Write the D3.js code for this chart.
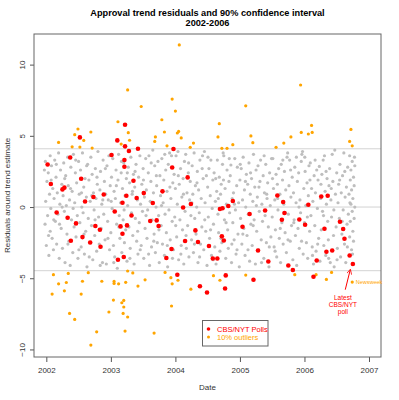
<!DOCTYPE html>
<html>
<head>
<meta charset="utf-8">
<script src="https://cdn.jsdelivr.net/npm/d3@7"></script>
<style>
  body { margin: 0; background: #fff; }
  text { font-family: "Liberation Sans", Arial, sans-serif; }
</style>
</head>
<body>
<svg id="chart" width="399" height="400"></svg>
<script>
// tick labels
var xTicks = [2002, 2003, 2004, 2005, 2006, 2007];
var yTicks = [-10, -5, 0, 5, 10];
// 90% band and zero line
var bandLines = [4.09, 0, -4.47];

// CBS/NYT polls [date, residual]
var cbsPolls = [
  [2002.02,2.99],[2002.07,1.62],[2002.16,-0.38],[2002.25,1.24],[2002.28,1.36],[2002.33,-0.75],
  [2002.37,3.48],[2002.38,-2.37],[2002.46,-1.15],[2002.52,4.89],[2002.54,1.99],[2002.56,-2.11],
  [2002.60,0.39],[2002.68,-2.49],[2002.73,0.70],[2002.76,-1.33],[2002.83,-1.59],[2002.84,-2.79],
  [2002.89,0.88],[2003.01,3.65],[2003.06,-0.31],[2003.10,4.68],[2003.11,-3.70],[2003.15,-1.36],
  [2003.18,0.30],[2003.18,-1.88],[2003.20,-3.51],[2003.21,3.30],[2003.21,2.83],[2003.22,5.78],
  [2003.22,4.26],[2003.24,0.79],[2003.25,-1.29],[2003.28,3.93],[2003.32,-0.59],[2003.35,1.85],
  [2003.40,0.63],[2003.42,4.09],[2003.51,0.98],[2003.61,-0.98],[2003.65,0.28],[2003.71,-0.94],
  [2003.74,-1.33],[2003.80,1.10],[2003.86,-3.58],[2003.94,-2.95],[2003.95,2.78],[2003.97,4.07],
  [2004.03,-4.75],[2004.12,-0.03],[2004.15,-2.39],[2004.19,2.08],[2004.24,0.21],[2004.31,-1.64],
  [2004.35,-2.46],[2004.38,-5.56],[2004.49,-6.00],[2004.52,-2.74],[2004.58,-3.61],[2004.65,-3.61],
  [2004.69,-0.14],[2004.72,-2.06],[2004.73,-0.08],[2004.75,-2.35],[2004.77,-5.72],[2004.78,-4.80],
  [2004.82,0.07],[2004.89,0.42],[2005.04,-1.38],[2005.15,-0.49],[2005.21,-5.11],[2005.28,-3.05],
  [2005.39,-0.24],[2005.44,-3.82],[2005.58,0.81],[2005.65,-0.89],[2005.67,0.35],[2005.69,-0.42],
  [2005.75,-4.10],[2005.82,-4.42],[2005.92,-0.87],[2006.01,-1.24],[2006.06,0.16],[2006.14,-4.89],
  [2006.19,-3.75],[2006.26,0.74],[2006.31,-1.52],[2006.34,-3.14],[2006.36,0.79],[2006.43,-3.05],
  [2006.55,-1.03],[2006.60,-1.54],[2006.62,-2.23],[2006.70,-3.40],[2006.75,-4.00]
];

// outside the 90% band [date, residual]
var outliers = [
  [2002.19,4.54],[2002.49,5.48],[2002.44,5.08],[2002.58,4.68],[2002.69,5.27],[2002.40,4.23],
  [2002.52,4.21],[2002.71,4.14],[2003.11,5.99],[2003.26,8.22],[2003.27,5.22],[2003.29,4.69],
  [2003.16,4.42],[2004.06,11.38],[2003.47,7.06],[2003.95,7.58],[2004.00,6.74],[2003.79,6.13],
  [2003.83,5.27],[2004.05,5.31],[2004.03,5.20],[2003.69,4.92],[2003.68,4.61],[2004.09,4.85],
  [2003.87,4.30],[2004.28,4.49],[2004.23,4.19],[2004.68,5.85],[2004.66,4.92],[2004.72,4.12],
  [2004.80,4.12],[2004.89,4.38],[2005.09,7.11],[2005.17,4.99],[2005.20,4.52],[2005.94,8.57],
  [2006.11,5.73],[2005.95,5.24],[2006.06,5.13],[2006.12,5.24],[2005.79,4.92],[2005.68,4.49],
  [2005.56,4.19],[2006.72,5.45],[2006.70,4.61],[2006.74,4.30],
  [2002.11,-4.75],[2002.34,-4.66],[2002.65,-4.61],[2003.26,-4.49],[2002.19,-5.39],[2002.31,-5.30],
  [2002.56,-5.21],[2002.86,-5.21],[2003.05,-5.22],[2003.05,-5.37],[2003.12,-5.39],[2003.23,-5.29],
  [2002.09,-6.11],[2002.28,-5.88],[2002.54,-6.11],[2002.36,-7.47],[2002.44,-7.89],[2002.78,-8.76],
  [2002.69,-9.69],[2003.42,-5.55],[2003.04,-6.53],[2003.17,-6.72],[2003.20,-6.56],[2003.20,-7.02],
  [2002.97,-7.37],[2003.19,-7.47],[2003.26,-7.72],[2003.22,-8.71],[2003.53,-5.11],[2003.95,-5.39],
  [2004.04,-5.14],[2004.24,-5.77],[2003.94,-6.95],[2003.67,-8.85],[2004.69,-5.14],[2003.34,-4.63],
  [2003.84,-4.59],[2003.93,-4.96],[2004.59,-4.82],[2005.09,-4.78],[2005.85,-4.75],[2006.18,-4.75],
  [2006.42,-4.59],[2006.34,-5.08]
];
var newsweek = [2006.74, -5.27];

// all other polls [date, residual]
var residuals = [
  [2001.97,2.6],[2001.98,-1.2],[2001.99,0.4],[2002.00,-2.7],[2002.01,1.8],[2002.02,-0.6],[2002.03,2.4],[2002.04,-3.4],
  [2002.05,0.9],[2002.06,3.6],[2002.06,-1.7],[2002.07,-0.1],[2002.08,2.9],[2002.09,-2.2],[2002.10,1.3],[2002.11,-3.0],
  [2002.12,0.6],[2002.13,3.3],[2002.14,-1.0],[2002.15,2.1],[2002.16,-2.6],[2002.17,1.0],[2002.18,-0.5],[2002.19,3.8],
  [2002.20,-3.6],[2002.21,0.2],[2002.22,2.6],[2002.23,-1.5],[2002.24,1.6],
  [2002.25,-2.9],[2002.26,0.8],[2002.27,3.1],[2002.28,-0.3],[2002.29,-3.9],[2002.30,2.2],[2002.31,0.1],[2002.32,-1.9],
  [2002.33,3.5],[2002.34,1.5],[2002.35,-2.4],[2002.36,0.5],[2002.37,-4.1],[2002.38,2.8],[2002.39,-0.9],[2002.40,1.1],
  [2002.41,-3.2],[2002.42,3.7],[2002.43,-1.4],[2002.44,0.3],[2002.45,2.4],[2002.46,-2.1],[2002.47,1.7],[2002.48,-0.6],
  [2002.49,-3.6],
  [2002.50,3.2],[2002.51,0.9],[2002.52,-1.1],[2002.53,2.6],[2002.54,-2.8],[2002.55,0.0],[2002.56,3.8],[2002.57,-0.4],
  [2002.58,1.4],[2002.59,-3.3],[2002.60,2.0],[2002.61,-1.7],[2002.62,0.7],[2002.63,-4.2],[2002.64,3.0],[2002.65,-0.8],
  [2002.66,1.9],[2002.67,-2.5],[2002.68,0.4],[2002.69,3.5],[2002.70,-1.3],[2002.71,2.3],[2002.72,-3.7],[2002.73,1.0],
  [2002.74,-0.2],
  [2002.75,-2.0],[2002.76,2.7],[2002.77,0.6],[2002.78,-3.1],[2002.79,1.6],[2002.80,3.9],[2002.81,-0.7],[2002.82,-2.6],
  [2002.83,1.2],[2002.84,2.5],[2002.85,-1.5],[2002.86,0.2],[2002.87,-3.9],[2002.88,3.3],[2002.89,-0.5],[2002.90,1.8],
  [2002.91,-2.3],[2002.92,0.9],[2002.93,-4.0],[2002.94,2.9],[2002.95,-1.0],[2002.96,0.5],[2002.97,3.6],[2002.98,-3.0],
  [2002.99,1.5],
  [2003.00,-1.8],[2003.01,2.1],[2003.02,-0.1],[2003.03,3.4],[2003.04,-2.7],[2003.05,1.1],[2003.06,-3.5],[2003.07,0.6],
  [2003.08,2.6],[2003.09,-1.2],[2003.10,-4.3],[2003.11,1.9],[2003.12,3.7],[2003.13,-0.6],[2003.14,-2.2],[2003.15,0.3],
  [2003.16,2.4],[2003.17,-3.2],[2003.18,1.3],[2003.19,-0.9],[2003.20,3.1],[2003.21,-2.5],[2003.22,0.8],[2003.23,-1.6],
  [2003.24,2.0],
  [2003.25,-3.8],[2003.26,0.1],[2003.27,2.8],[2003.28,-1.4],[2003.29,1.7],[2003.30,-2.9],[2003.31,3.5],[2003.32,-0.4],
  [2003.33,0.9],[2003.34,-2.0],[2003.35,2.3],[2003.36,-4.0],[2003.37,1.4],[2003.38,-0.8],[2003.39,3.0],[2003.40,-2.4],
  [2003.41,0.5],[2003.42,-3.3],[2003.43,2.1],[2003.44,-1.1],[2003.45,3.6],[2003.46,0.2],[2003.47,-2.7],[2003.48,1.6],
  [2003.49,-0.3],
  [2003.50,2.7],[2003.51,-3.6],[2003.52,0.7],[2003.53,-1.5],[2003.54,3.4],[2003.55,1.2],[2003.56,-2.2],[2003.57,-0.2],
  [2003.58,2.4],[2003.59,3.6],[2003.60,-4.1],[2003.61,0.4],[2003.62,1.8],[2003.63,-2.8],[2003.64,-0.9],[2003.65,4.0],
  [2003.66,1.0],[2003.67,-1.9],[2003.68,2.9],[2003.69,-3.2],[2003.70,0.0],[2003.71,1.5],[2003.72,-2.5],[2003.73,3.2],
  [2003.74,-0.6],
  [2003.75,-3.9],[2003.76,2.2],[2003.77,0.8],[2003.78,-1.3],[2003.79,3.4],[2003.80,-2.6],[2003.81,0.3],[2003.82,1.9],
  [2003.83,-3.4],[2003.84,-0.5],[2003.85,2.6],[2003.86,-1.8],[2003.87,1.1],[2003.88,-4.2],[2003.89,3.0],[2003.90,-0.2],
  [2003.91,3.8],[2003.92,-2.3],[2003.93,0.6],[2003.94,3.6],[2003.95,-1.0],[2003.96,1.7],[2003.97,-3.0],[2003.98,2.3],
  [2003.99,-0.7],
  [2004.00,1.3],[2004.01,3.6],[2004.02,-2.1],[2004.03,0.2],[2004.04,3.9],[2004.05,-3.7],[2004.06,1.6],[2004.07,-0.9],
  [2004.08,2.7],[2004.09,-2.7],[2004.10,0.7],[2004.11,-1.6],[2004.12,2.0],[2004.13,-4.0],[2004.14,3.2],[2004.15,-0.3],
  [2004.16,3.7],[2004.17,-2.9],[2004.18,1.0],[2004.19,-1.3],[2004.20,2.4],[2004.21,-3.5],[2004.22,0.5],[2004.23,1.8],
  [2004.24,-0.6],
  [2004.25,-2.3],[2004.26,2.9],[2004.27,0.9],[2004.28,-3.2],[2004.29,3.8],[2004.30,-0.8],[2004.31,1.5],[2004.32,-1.9],
  [2004.33,0.0],[2004.34,2.5],[2004.35,-3.9],[2004.36,1.2],[2004.37,-0.4],[2004.38,3.3],[2004.39,-2.6],[2004.40,0.6],
  [2004.41,-1.4],[2004.42,3.6],[2004.43,2.0],[2004.44,-3.0],[2004.45,3.9],[2004.46,0.3],[2004.47,-1.7],[2004.48,2.2],
  [2004.49,-4.1],
  [2004.50,1.4],[2004.51,-0.7],[2004.52,2.7],[2004.53,-2.2],[2004.54,0.8],[2004.55,3.3],[2004.56,-3.4],[2004.57,-0.1],
  [2004.58,1.9],[2004.59,-1.2],[2004.60,2.4],[2004.61,-2.8],[2004.62,0.4],[2004.63,-4.0],[2004.64,1.1],[2004.65,3.3],
  [2004.66,-0.5],[2004.67,-1.8],[2004.68,2.1],[2004.69,-3.1],[2004.70,0.9],[2004.71,1.6],[2004.72,-2.5],[2004.73,3.0],
  [2004.74,3.8],
  [2004.75,3.6],[2004.76,-0.9],[2004.77,1.3],[2004.78,-3.6],[2004.79,0.2],[2004.80,2.6],[2004.81,-1.6],[2004.82,-2.9],
  [2004.83,1.8],[2004.84,-0.4],[2004.85,2.2],[2004.86,2.95],[2004.87,-3.9],[2004.88,0.6],[2004.89,-1.1],[2004.90,1.0],
  [2004.91,-2.3],[2004.92,3.4],[2004.93,-0.2],[2004.94,-3.3],[2004.95,1.5],[2004.96,2.8],[2004.97,-1.9],[2004.98,0.3],
  [2004.99,-4.2],
  [2005.00,1.9],[2005.01,-0.8],[2005.02,2.7],[2005.03,-2.6],[2005.04,0.5],[2005.05,3.5],[2005.06,-1.5],[2005.07,1.2],
  [2005.08,-3.4],[2005.09,0.0],[2005.10,2.3],[2005.11,-2.0],[2005.12,1.6],[2005.13,-0.5],[2005.14,3.1],[2005.15,-3.8],
  [2005.16,0.9],[2005.17,-1.2],[2005.18,2.0],[2005.19,-2.7],[2005.20,0.4],[2005.21,3.7],[2005.22,-0.9],[2005.23,1.4],
  [2005.24,-4.0],
  [2005.25,2.6],[2005.26,-1.7],[2005.27,0.7],[2005.28,2.9],[2005.29,-3.0],[2005.30,-0.3],[2005.31,1.8],[2005.32,3.3],
  [2005.33,-2.3],[2005.34,0.2],[2005.35,-1.0],[2005.36,2.2],[2005.37,-3.6],[2005.38,1.0],[2005.39,-0.6],[2005.40,3.0],
  [2005.41,-2.5],[2005.42,0.6],[2005.43,1.7],[2005.44,-1.4],[2005.45,-4.2],[2005.46,2.4],[2005.47,0.1],[2005.48,-2.1],
  [2005.49,3.4],
  [2005.50,-0.7],[2005.51,3.4],[2005.52,1.3],[2005.53,-2.8],[2005.54,0.5],[2005.55,-1.6],[2005.56,2.3],[2005.57,-3.5],
  [2005.58,1.6],[2005.59,-0.2],[2005.60,2.7],[2005.61,-2.2],[2005.62,0.9],[2005.63,-3.9],[2005.64,3.0],[2005.65,-1.1],
  [2005.66,1.9],[2005.67,-2.6],[2005.68,0.2],[2005.69,2.5],[2005.70,-1.8],[2005.71,1.2],[2005.72,-3.2],[2005.73,3.5],
  [2005.74,3.8],
  [2005.75,-0.5],[2005.76,1.5],[2005.77,3.3],[2005.78,-2.4],[2005.79,0.7],[2005.80,-1.3],[2005.81,2.1],[2005.82,-3.7],
  [2005.83,1.0],[2005.84,-0.9],[2005.85,2.8],[2005.86,-2.0],[2005.87,0.3],[2005.88,-4.1],[2005.89,1.8],[2005.90,-1.5],
  [2005.91,2.4],[2005.92,-2.9],[2005.93,0.5],[2005.94,-0.4],[2005.95,3.2],[2005.96,3.7],[2005.97,3.9],[2005.98,-3.3],
  [2005.99,1.3],
  [2006.00,-1.1],[2006.01,2.5],[2006.02,0.1],[2006.03,-2.5],[2006.04,1.7],[2006.05,-3.6],[2006.06,0.8],[2006.07,2.9],
  [2006.08,-1.7],[2006.09,3.1],[2006.10,-0.6],[2006.11,1.3],[2006.12,-2.8],[2006.13,0.4],[2006.14,-4.0],[2006.15,2.2],
  [2006.16,-1.3],[2006.17,1.0],[2006.18,-3.1],[2006.19,2.6],[2006.20,-0.1],[2006.21,1.9],[2006.22,-2.2],[2006.23,2.85],
  [2006.24,-3.8],
  [2006.25,0.6],[2006.26,-1.6],[2006.27,2.3],[2006.28,-0.3],[2006.29,3.3],[2006.30,-2.7],[2006.31,3.6],[2006.32,1.1],
  [2006.33,-3.4],[2006.34,0.2],[2006.35,2.0],[2006.36,-1.0],[2006.37,-2.3],[2006.38,1.5],[2006.39,2.7],[2006.40,-3.9],
  [2006.41,0.5],[2006.42,-0.7],[2006.43,3.7],[2006.44,1.8],[2006.45,-2.0],[2006.46,-4.2],[2006.47,4.0],[2006.48,0.9],
  [2006.49,-1.4],
  [2006.50,2.4],[2006.51,-2.9],[2006.52,0.3],[2006.53,1.6],[2006.54,-0.8],[2006.55,3.0],[2006.56,-3.5],[2006.57,1.0],
  [2006.58,-1.9],[2006.59,2.2],[2006.60,-0.2],[2006.61,3.8],[2006.62,-2.6],[2006.63,0.7],[2006.64,-3.9],[2006.65,1.4],
  [2006.66,-1.2],[2006.67,2.8],[2006.68,-0.5],[2006.69,0.9],[2006.70,3.6],[2006.70,-2.1],[2006.71,1.9],[2006.71,-1.0],
  [2006.72,0.2],[2006.72,2.6],[2006.73,-3.0],[2006.73,1.2],[2006.74,-0.3],[2006.74,3.2],[2006.75,-1.7],[2006.75,0.6],
  [2006.76,2.1],[2006.76,-2.4],[2006.77,1.5],[2006.77,-0.8],[2006.78,2.9],[2006.78,0.0],
  // polls between the above
  [2001.985,3.2],[2002.035,-2.0],[2002.075,1.9],[2002.115,-0.9],[2002.155,3.0],[2002.205,-1.2],[2002.245,0.0],
  [2002.285,2.0],[2002.335,-2.6],[2002.375,1.3],[2002.415,-0.1],[2002.455,3.3],[2002.505,-3.0],[2002.545,1.0],
  [2002.585,-1.9],[2002.625,2.9],[2002.665,-3.5],[2002.705,0.8],[2002.755,-0.9],[2002.785,2.1],[2002.835,-4.1],
  [2002.875,0.5],[2002.915,2.7],[2002.955,-2.2],
  [2003.005,0.4],[2003.045,-3.9],[2003.085,1.5],[2003.125,-1.4],[2003.165,3.2],[2003.205,-0.2],[2003.255,2.4],
  [2003.295,-3.6],[2003.335,1.1],[2003.375,2.5],[2003.415,-1.7],[2003.455,-3.0],[2003.505,1.9],[2003.545,-0.6],
  [2003.585,-3.3],[2003.625,3.1],[2003.665,-2.4],[2003.705,2.2],[2003.745,-1.6],[2003.785,0.1],[2003.835,3.7],
  [2003.875,-2.7],[2003.915,1.4],[2003.955,-3.6],
  [2004.005,-1.3],[2004.045,2.2],[2004.085,-3.3],[2004.125,0.9],[2004.165,-2.0],[2004.205,3.1],[2004.255,0.3],
  [2004.295,-2.6],[2004.335,1.7],[2004.375,-3.5],[2004.415,2.7],[2004.455,-0.9],[2004.505,3.5],[2004.545,-1.6],
  [2004.585,-3.7],[2004.625,2.0],[2004.665,0.6],[2004.705,-2.2],[2004.745,1.9],[2004.785,-1.1],[2004.835,3.4],
  [2004.875,-2.6],[2004.915,0.2],[2004.955,-3.0],
  [2005.005,3.0],[2005.045,-1.9],[2005.085,1.8],[2005.125,-3.0],[2005.165,2.4],[2005.205,-1.3],[2005.255,0.1],
  [2005.295,1.4],[2005.335,-3.9],[2005.375,3.6],[2005.415,0.9],[2005.455,-2.8],[2005.505,2.0],[2005.545,-3.1],
  [2005.585,0.6],[2005.625,-1.5],[2005.665,3.3],[2005.705,-0.4],[2005.745,-2.3],[2005.785,2.6],[2005.835,-1.1],
  [2005.875,3.5],[2005.915,0.0],[2005.955,-2.4],
  [2006.005,3.5],[2006.045,-0.7],[2006.085,1.9],[2006.125,-3.4],[2006.165,3.3],[2006.205,-2.6],[2006.255,1.6],
  [2006.295,-0.6],[2006.335,2.5],[2006.375,-3.6],[2006.415,1.3],[2006.455,-0.2],[2006.505,-3.7],[2006.545,1.9],
  [2006.585,-1.0],[2006.625,2.5],[2006.665,-2.8],[2006.705,0.3],[2006.745,-3.3],[2006.775,3.5]
];

var svg = d3.select("#chart");
var margin = {top: 34, right: 18, bottom: 43, left: 34};
var W = 399, H = 400;

var x = d3.scaleLinear().domain([2001.809, 2007.186]).range([margin.left, W - margin.right]);
var y = d3.scaleLinear().domain([-10.53, 12.15]).range([H - margin.bottom, margin.top]);

// title
svg.append("text").attr("x", 207.5).attr("y", 16).attr("text-anchor", "middle")
  .style("font-size", "9.2px").style("font-weight", "bold")
  .text("Approval trend residuals and 90% confidence interval");
svg.append("text").attr("x", 207.5).attr("y", 26).attr("text-anchor", "middle")
  .style("font-size", "9.2px").style("font-weight", "bold")
  .text("2002-2006");

// reference lines
svg.selectAll(".band").data(bandLines).join("line")
  .attr("x1", margin.left).attr("x2", W - margin.right)
  .attr("y1", d => y(d)).attr("y2", d => y(d))
  .attr("stroke", "#d3d3d3").attr("stroke-width", 1);

// points
svg.append("g").selectAll("circle").data(residuals).join("circle")
  .attr("cx", d => x(d[0])).attr("cy", d => y(d[1])).attr("r", 1.6)
  .attr("fill", "#bebebe");
svg.append("g").selectAll("circle").data(outliers.concat([newsweek])).join("circle")
  .attr("cx", d => x(d[0])).attr("cy", d => y(d[1])).attr("r", 1.6)
  .attr("fill", "orange");
svg.append("g").selectAll("circle").data(cbsPolls).join("circle")
  .attr("cx", d => x(d[0])).attr("cy", d => y(d[1])).attr("r", 2.3)
  .attr("fill", "red");

// axes
var xAxis = svg.append("g").attr("transform", "translate(0," + (H - margin.bottom) + ")")
  .call(d3.axisBottom(x).tickValues(xTicks).tickFormat(d3.format("d")).tickSize(5).tickPadding(5));
var yAxis = svg.append("g").attr("transform", "translate(" + margin.left + ",0)")
  .call(d3.axisLeft(y).tickValues(yTicks).tickSize(4));
[xAxis, yAxis].forEach(g => {
  g.select(".domain").remove();
  g.selectAll(".tick line").attr("stroke", "#555");
  g.selectAll(".tick text").attr("fill", "#333").style("font-size", "8px")
    .style("font-family", "'Liberation Sans', Arial, sans-serif");
});
yAxis.selectAll(".tick text")
  .attr("transform", "rotate(-90)").attr("x", 0).attr("y", -9).attr("dy", 0)
  .attr("text-anchor", "middle");

// plot box
svg.append("rect").attr("x", margin.left).attr("y", margin.top)
  .attr("width", W - margin.left - margin.right).attr("height", H - margin.top - margin.bottom)
  .attr("fill", "none").attr("stroke", "#666").attr("stroke-width", 1);

// axis titles
svg.append("text").attr("x", 207.5).attr("y", 390).attr("text-anchor", "middle")
  .style("font-size", "8px").attr("fill", "#333").text("Date");
svg.append("text").attr("transform", "translate(10,195.5) rotate(-90)").attr("text-anchor", "middle")
  .style("font-size", "8px").attr("fill", "#333").text("Residuals around trend estimate");

// legend
var lg = svg.append("g").attr("transform", "translate(202.5,320.5)");
lg.append("rect").attr("width", 65.5).attr("height", 25.5).attr("fill", "#fff").attr("stroke", "#666");
lg.append("circle").attr("cx", 6).attr("cy", 8.5).attr("r", 1.8).attr("fill", "red");
lg.append("circle").attr("cx", 6).attr("cy", 16.5).attr("r", 1.5).attr("fill", "orange");
lg.append("text").attr("x", 14.5).attr("y", 11).style("font-size", "7.5px").attr("fill", "red").text("CBS/NYT Polls");
lg.append("text").attr("x", 14.5).attr("y", 19.5).style("font-size", "7.5px").attr("fill", "orange").text("10% outliers");

// annotations
var latest = cbsPolls[cbsPolls.length - 1];
var lx = x(latest[0]), ly = y(latest[1]);
svg.append("defs").append("marker").attr("id", "ah").attr("viewBox", "0 0 10 10")
  .attr("refX", 9).attr("refY", 5).attr("markerWidth", 5).attr("markerHeight", 5).attr("orient", "auto")
  .append("path").attr("d", "M0,0 L10,5 L0,10").attr("fill", "none").attr("stroke", "red").attr("stroke-width", 1.5);
svg.append("line").attr("x1", lx - 7.6).attr("y1", ly + 25.7).attr("x2", lx - 2.6).attr("y2", ly + 5.7)
  .attr("stroke", "red").attr("stroke-width", 1).attr("marker-end", "url(#ah)");
svg.append("text").attr("text-anchor", "middle").style("font-size", "6.5px").attr("fill", "red")
  .selectAll("tspan").data(["Latest", "CBS/NYT", "poll"]).join("tspan")
  .attr("x", lx - 10).attr("y", (d, i) => ly + 35.7 + i * 7.3).text(d => d);
svg.append("text").attr("x", x(newsweek[0]) + 3.5).attr("y", y(newsweek[1]) + 2)
  .style("font-size", "5.5px").attr("fill", "orange").text("Newsweek");
</script>
</body>
</html>
